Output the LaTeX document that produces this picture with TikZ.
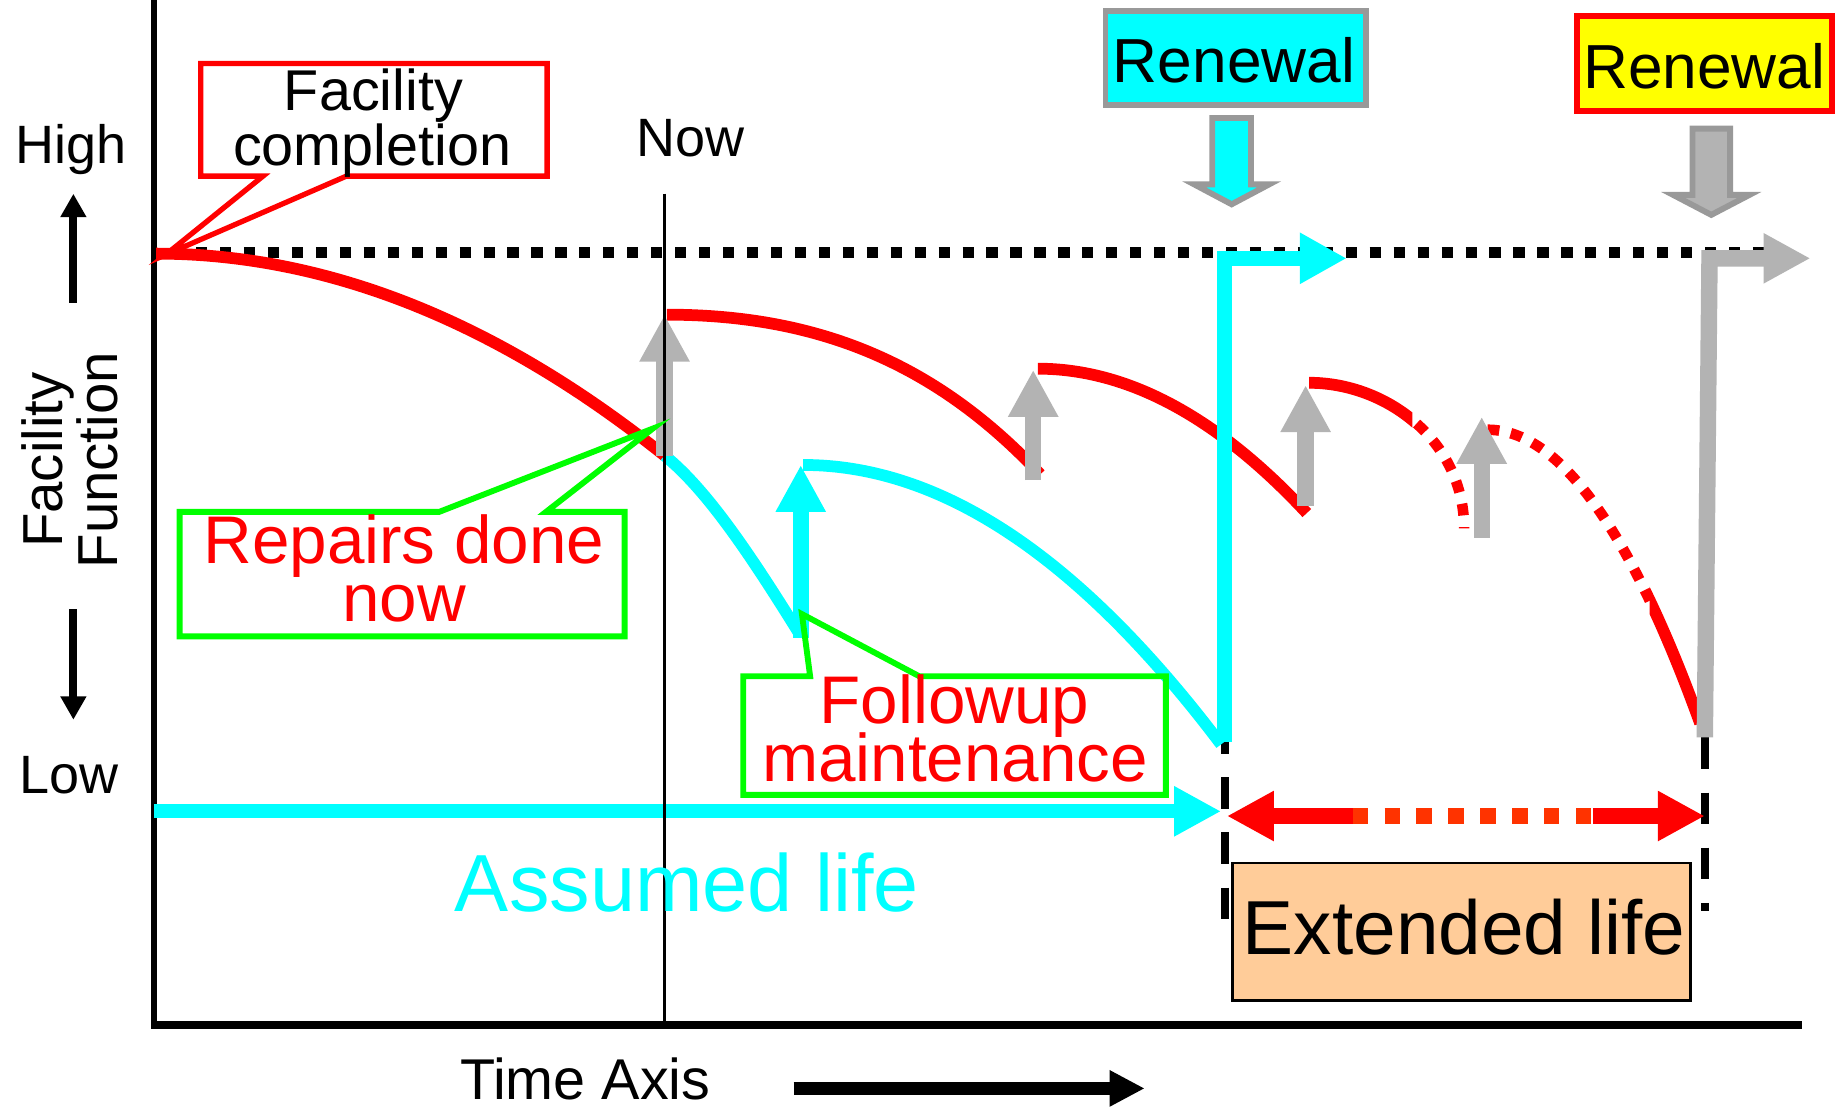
\documentclass[tikz,border=0pt]{standalone}
\usepackage{fontspec}
\setmainfont{Liberation Sans}
\usetikzlibrary{arrows.meta}
\definecolor{cy}{HTML}{00FFFF}
\definecolor{rd}{HTML}{FF0000}
\definecolor{gr}{HTML}{00FF00}
\definecolor{gy}{HTML}{B3B3B3}
\definecolor{gyb}{HTML}{999999}
\definecolor{ye}{HTML}{FFFF00}
\definecolor{pe}{HTML}{FFCC99}
\definecolor{orr}{HTML}{FF3300}
\begin{document}
\begin{tikzpicture}[x=0.5pt,y=-0.5pt,
  lbl/.style={inner sep=0pt, anchor=base},
  fa/.style={font=\fontsize{23}{23}\selectfont},
  fb/.style={font=\fontsize{24.5}{24.5}\selectfont},
  fr/.style={font=\fontsize{26.5}{26.5}\selectfont},
  fc/.style={font=\fontsize{28.7}{28.7}\selectfont},
  curve/.style={line width=5pt},
  dotc/.style={line width=4.5pt, dash pattern=on 5pt off 5pt},
  uparrow/.style={line width=7pt, -{Triangle[width=20pt,length=20pt]}},
  callred/.style={draw=rd, line width=2.25pt},
  callgreen/.style={draw=gr, line width=2.5pt},
  blockarrow/.style={draw=gyb, line width=2.5pt},
  vdash/.style={line width=3.5pt, dash pattern=on 13.5pt off 10pt},
]
\fill[white] (0,0) rectangle (1568,943);
\useasboundingbox (0,0) rectangle (1568,943);

% axes
\draw[line width=2.75pt] (131,0) -- (131,876);
\draw[line width=3pt] (129,873) -- (1535,873);

% dotted top line
\draw[line width=5pt, dash pattern=on 4.75pt off 5.45pt] (146.6,215) -- (1506,215);

% dashed verticals
\draw[vdash, dash phase=8.5pt] (1043,632) -- (1043,785);
\draw[vdash] (1452,628) -- (1452,776);

% curves
\draw[rd, curve] (133,216) .. controls (276,216) and (421,272) .. (566,388);
\draw[cy, curve] (566,388) .. controls (604,418.6) and (643,479) .. (681,540);
\draw[rd, curve] (568,268) .. controls (696,268) and (797,309) .. (886,404);
\draw[rd, curve] (884,314) .. controls (960.3,314) and (1036.7,355) .. (1113,437);
\draw[rd, dotc] (1115,326) .. controls (1181,326) and (1247,375.6) .. (1247,450);
\begin{scope}
  \clip (0,0) rectangle (1203,943);
  \draw[rd, curve] (1115,326) .. controls (1181,326) and (1247,375.6) .. (1247,450);
\end{scope}
\draw[rd, dotc] (1267,366) .. controls (1327.3,366) and (1387.7,449.3) .. (1448,616);
\begin{scope}
  \clip (1405,0) rectangle (1568,943);
  \draw[rd, curve] (1267,366) .. controls (1327.3,366) and (1387.7,449.3) .. (1448,616);
\end{scope}
\draw[cy, curve] (684,396) .. controls (802,396) and (920,475) .. (1040,634);

% repair arrows
\draw[gy, uparrow] (566,388) -- (566,268);
\draw[gy, uparrow] (880,409) -- (880,315);
\draw[gy, uparrow] (1112,431) -- (1112,328);
\draw[gy, uparrow] (1262,458) -- (1262,355);
\draw[cy, uparrow] (682,543) -- (682,396);

% renewal arrows
\draw[cy, line width=6.5pt, -{Triangle[width=20.5pt,length=20pt]}] (1043,632) -- (1043,220) -- (1147,220);
\draw[gy, line width=7pt, -{Triangle[width=20pt,length=20pt]}] (1452,628) -- (1456,220) -- (1542,220);

% life arrows
\draw[cy, line width=6pt, -{Triangle[width=20pt,length=20pt]}] (131,691) -- (1040,691);
\draw[rd, line width=7pt, -{Triangle[width=20pt,length=20pt]}] (1152,695) -- (1045,695);
\draw[rd, line width=7pt, -{Triangle[width=20pt,length=20pt]}] (1357,695) -- (1452,695);
\draw[orr, line width=7pt, dash pattern=on 6.5pt off 7.1pt] (1152,695) -- (1357,695);

% now line
\draw[line width=1.3pt] (566,165) -- (566,873);

% callouts
\draw[callred, line join=miter] (171,54) -- (466,54) -- (466,150) -- (295,150) -- (141,217) -- (224,150) -- (171,150) -- cycle;
\draw[callgreen, line join=miter] (153,436) -- (374,436) -- (556,365) -- (465,436) -- (532,436) -- (532,542) -- (153,542) -- cycle;
\draw[callgreen, line join=miter] (633,576) -- (690,576) -- (683,523) -- (783,576) -- (993,576) -- (993,677) -- (633,677) -- cycle;

% renewal boxes
\node[draw=gyb, fill=cy, line width=2.5pt, inner sep=0pt, minimum width=111pt, minimum height=40pt] (renbox1) at (1052.5,49.5) {};
\node[draw=rd, fill=ye, line width=2.5pt, inner sep=0pt, minimum width=108.5pt, minimum height=40.5pt] (renbox2) at (1452,54) {};
\draw[blockarrow, fill=cy] (1032.5,100.5) -- (1065.5,100.5) -- (1065.5,157) -- (1081,157) -- (1049,174) -- (1017,157) -- (1032.5,157) -- cycle;
\draw[blockarrow, fill=gy] (1441.5,109.5) -- (1473.5,109.5) -- (1473.5,166) -- (1490,166) -- (1457.5,183) -- (1425,166) -- (1441.5,166) -- cycle;

% extended life box
\node[draw, fill=pe, line width=1.2pt, inner sep=0pt, minimum width=195pt, minimum height=58.5pt] (extbox) at (1245,793.5) {};

% side arrows
\draw[line width=3.5pt, -{Triangle[width=10.5pt,length=10pt]}] (62.5,258) -- (62.5,165);
\draw[line width=3.5pt, -{Triangle[width=10.5pt,length=10pt]}] (62.5,519) -- (62.5,613);
\draw[line width=5.5pt, -{Triangle[width=14.5pt,length=15pt]}] (676,927) -- (975,927);

% texts
\node[lbl, fa] (high) at (60.5,139) {High};
\node[lbl, fa] (low) at (59,676) {Low};
\node[lbl, fa] (now) at (588,133.5) {Now};
\node[lbl, font=\fontsize{24}{24}\selectfont, rotate=90] (fac1) at (53,392) {Facility};
\node[lbl, font=\fontsize{24}{24}\selectfont, rotate=90] (fac2) at (100,392) {Function};
\node[lbl, fb] (fc1) at (318,94) {Facility};
\node[lbl, fb] (fc2) at (317,140.6) {completion};
\node[lbl, fr] (ren1) at (1051,70) {Renewal};
\node[lbl, fr] (ren2) at (1451.5,75) {Renewal};
\node[lbl, fc, text=rd] (rep1) at (344,480) {Repairs done};
\node[lbl, fc, text=rd] (rep2) at (344,529) {now};
\node[lbl, fc, text=rd] (fol1) at (813,616.5) {Followup};
\node[lbl, fc, text=rd] (fol2) at (813.5,665.6) {maintenance};
\node[lbl, font=\fontsize{34.5}{34.5}\selectfont, text=cy] (assumed) at (585,776) {Assumed life};
\node[lbl, font=\fontsize{32.6}{32.6}\selectfont] (extlbl) at (1247,813) {Extended life};
\node[lbl, fb] (time) at (498.5,936.5) {Time Axis};
\end{tikzpicture}
\end{document}
